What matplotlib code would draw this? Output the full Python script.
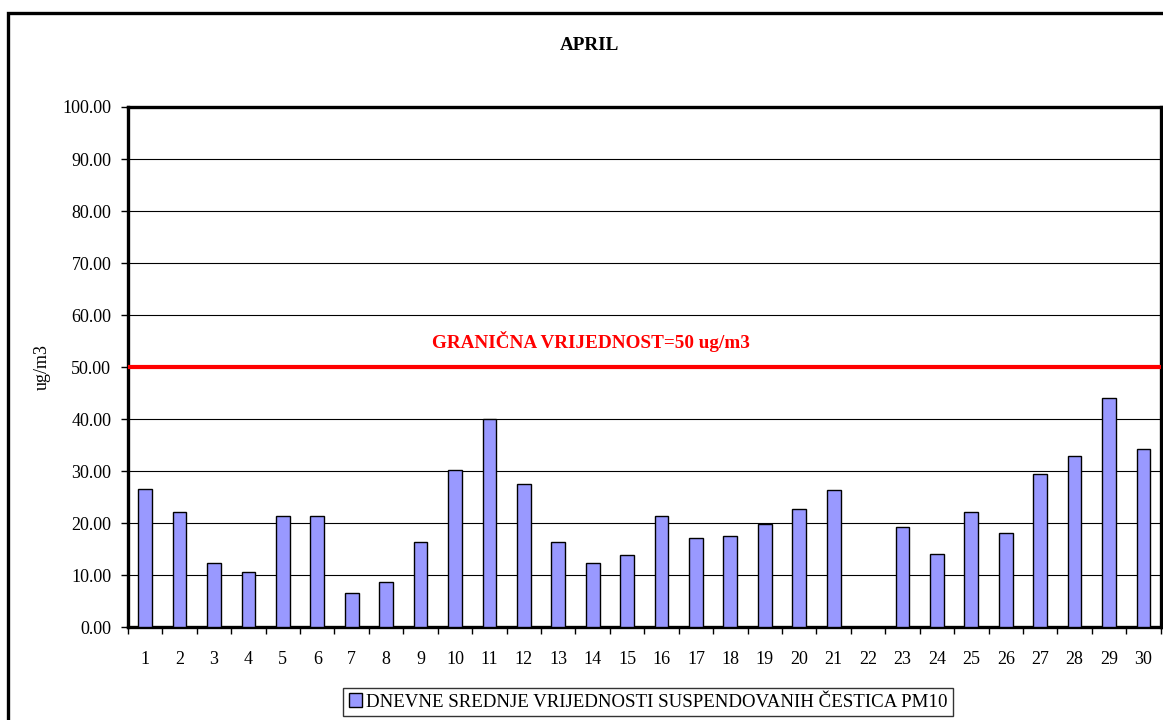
import matplotlib
matplotlib.use("Agg")
import matplotlib.pyplot as plt
import numpy as np
from matplotlib.patches import Rectangle, Patch

days = list(range(1, 31))
pm10 = [26.7, 22.2, 12.3, 10.7, 21.4, 21.4, 6.7, 8.8, 16.5, 30.2,
        40.1, 27.6, 16.5, 12.3, 13.9, 21.4, 17.1, 17.6, 19.9, 22.7,
        26.5, np.nan, 19.3, 14.2, 22.1, 18.1, 29.4, 32.9, 44.1, 34.2]
limit = 50
yticks = [0, 10, 20, 30, 40, 50, 60, 70, 80, 90, 100]

plt.rcParams['font.family'] = ['Liberation Serif', 'DejaVu Serif']

fig = plt.figure(figsize=(11.63, 7.2), dpi=100)
ax = fig.add_axes([0.110, 0.1285, 0.888, 0.7229])

# outer frame of the chart (right and bottom edges cut off)
fig.patches.append(Rectangle((8 / 1163, -0.05), 1.2, 1 - 13 / 720 + 0.05,
                             transform=fig.transFigure, fill=False,
                             edgecolor='black', linewidth=2.4))

ax.bar(days, pm10, width=0.4, color='#9999FF', edgecolor='black',
       linewidth=1.0, zorder=3)
ax.axhline(limit, color='#FF0000', linewidth=3.0, zorder=4)
ax.text(13.95, 53, 'GRANIČNA VRIJEDNOST=50 ug/m3', color='#FF0000',
        fontsize=13.8, fontweight='bold', ha='center', va='bottom')

ax.set_xlim(0.5, 30.5)
ax.set_ylim(0, 100)
ax.set_yticks(yticks)
ax.set_yticklabels([f"{v:.2f}" for v in yticks])
ax.set_xticks(days)
ax.set_xticks(np.arange(0.5, 31, 1), minor=True)
ax.tick_params(axis='x', which='major', length=0, pad=17, labelsize=13)
ax.tick_params(axis='x', which='minor', length=5, width=1, direction='out')
ax.tick_params(axis='y', length=5, width=1, direction='out', labelsize=13, pad=7)
ax.yaxis.grid(True, color='black', linewidth=0.8, zorder=0)
for s in ax.spines.values():
    s.set_linewidth(2.4)

ax.set_ylabel('ug/m3', fontsize=13, labelpad=8)
fig.text(0.507, 0.937, 'APRIL', ha='center', va='center', fontsize=13.8,
         fontweight='bold')

handle = Patch(facecolor='#9999FF', edgecolor='black', linewidth=1.0)
leg = fig.legend([handle], ['DNEVNE SREDNJE VRIJEDNOSTI SUSPENDOVANIH ČESTICA PM10'],
                 loc='center', bbox_to_anchor=(0.557, 0.025), fontsize=13.6,
                 frameon=True, fancybox=False, edgecolor='black',
                 handlelength=0.7, handleheight=0.7, handletextpad=0.2,
                 borderpad=0.3)
leg.get_frame().set_linewidth(1.0)

fig.savefig('out.png', dpi=100)
